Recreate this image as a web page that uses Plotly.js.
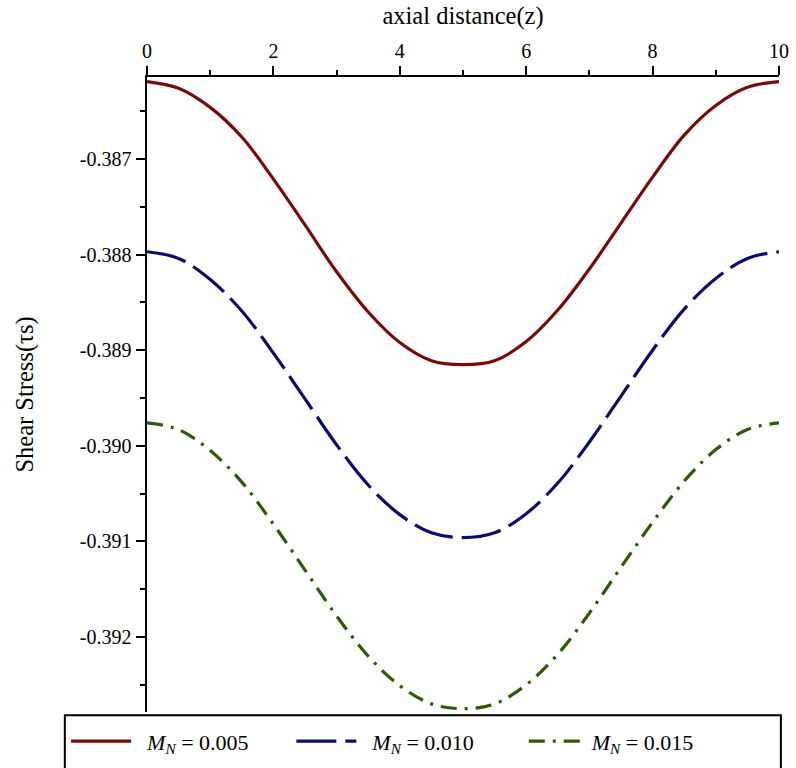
<!DOCTYPE html>
<html>
<head>
<meta charset="utf-8">
<script src="https://cdn.plot.ly/plotly-3.0.1.min.js"></script>
<style>
  html, body { margin: 0; padding: 0; background: #ffffff; }
  #chart { width: 796px; height: 768px; }
</style>
</head>
<body>
<div id="chart"></div>
<script>
// axial distance z
const z = [0, 0.5, 1, 1.5, 2, 2.5, 3, 3.5, 4, 4.5, 5, 5.5, 6, 6.5, 7, 7.5, 8, 8.5, 9, 9.5, 10];

// Shear stress values
const tauMN005 = [-0.38619, -0.38626, -0.38646, -0.38677, -0.38721, -0.38769, -0.38818, -0.38860, -0.38892, -0.38911, -0.38915,
                  -0.38911, -0.38891, -0.38858, -0.38815, -0.38767, -0.38719, -0.38675, -0.38644, -0.38625, -0.38619];
const tauMN010 = [-0.38797, -0.38804, -0.38826, -0.38859, -0.38903, -0.38951, -0.38999, -0.39041, -0.39072, -0.39091, -0.39096,
                  -0.39091, -0.39071, -0.39039, -0.38996, -0.38948, -0.38900, -0.38857, -0.38825, -0.38804, -0.38797];
const tauMN015 = [-0.38976, -0.38983, -0.39005, -0.39038, -0.39082, -0.39130, -0.39178, -0.39220, -0.39251, -0.39270, -0.39275,
                  -0.39270, -0.39250, -0.39218, -0.39175, -0.39127, -0.39080, -0.39037, -0.39004, -0.38983, -0.38976];

const seriesNames = ['\u00a0\u00a0<i>M</i><sub><i>N</i></sub> = 0.005', '\u00a0\u00a0<i>M</i><sub><i>N</i></sub> = 0.010', '<i>M</i><sub><i>N</i></sub> = 0.015'];

const xTickVals = [0, 2, 4, 6, 8, 10];
const xTickText = ['0', '2', '4', '6', '8', '10'];
const yTickVals = [-0.387, -0.388, -0.389, -0.390, -0.391, -0.392];
const yTickText = ['-0.387', '-0.388', '-0.389', '-0.390', '-0.391', '-0.392'];

const serif = 'Liberation Serif, Times New Roman, serif';

const traces = [
  { x: z, y: tauMN005, name: seriesNames[0], mode: 'lines', legend: 'legend',
    line: { color: '#7a0a0a', width: 3.2, shape: 'spline', smoothing: 1, dash: 'solid' } },
  { x: z, y: tauMN010, name: seriesNames[1], mode: 'lines', legend: 'legend2',
    line: { color: '#0c0c70', width: 3.2, shape: 'spline', smoothing: 1, dash: '40px,9px' } },
  { x: z, y: tauMN015, name: seriesNames[2], mode: 'lines', legend: 'legend3',
    line: { color: '#2f5a05', width: 3.2, shape: 'spline', smoothing: 1, dash: '16px,8px,3px,8px' } }
];

function legendAt(xpos, width) {
  return {
    orientation: 'h', xref: 'container', x: xpos, xanchor: 'left',
    yref: 'container', y: 0.062, yanchor: 'top',
    font: { family: serif, size: 22, color: '#000' },
    bgcolor: 'rgba(0,0,0,0)', borderwidth: 0,
    itemwidth: width
  };
}

const layout = {
  width: 796, height: 768,
  margin: { l: 147, r: 17, t: 77, b: 56, autoexpand: false },
  paper_bgcolor: '#ffffff', plot_bgcolor: '#ffffff',
  font: { family: serif, color: '#000000', size: 20 },
  showlegend: true,
  legend: legendAt(0.083, 60),
  legend2: legendAt(0.366, 60),
  legend3: legendAt(0.658, 58),
  shapes: [
    { type: 'rect', xref: 'paper', yref: 'paper', x0: -0.13, x1: 1.003, y0: -0.005, y1: -0.12,
      line: { color: '#000', width: 2 }, fillcolor: 'rgba(0,0,0,0)' }
  ],
  xaxis: {
    side: 'top', range: [0, 10], showgrid: false, zeroline: false,
    showline: true, linecolor: '#000', linewidth: 2.5,
    tickmode: 'array', tickvals: xTickVals, ticktext: xTickText,
    ticks: 'outside', ticklen: 9, tickwidth: 2, tickcolor: '#000',
    minor: { dtick: 1, ticks: 'outside', ticklen: 5, tickwidth: 2, tickcolor: '#000', showgrid: false },
    tickfont: { family: serif, size: 20 },
    title: { text: 'axial distance(z)', font: { family: serif, size: 24.5 }, standoff: 8 }
  },
  yaxis: {
    range: [-0.392785, -0.386142], showgrid: false, zeroline: false,
    showline: true, linecolor: '#000', linewidth: 2.5,
    tickmode: 'array', tickvals: yTickVals, ticktext: yTickText,
    ticks: 'outside', ticklen: 9, tickwidth: 2, tickcolor: '#000',
    minor: { dtick: 0.0005, tick0: -0.387, ticks: 'outside', ticklen: 5, tickwidth: 2, tickcolor: '#000', showgrid: false },
    tickfont: { family: serif, size: 20 },
    title: { text: 'Shear Stress(τs)', font: { family: serif, size: 24.5 }, standoff: 40 }
  }
};

Plotly.newPlot('chart', traces, layout, { displayModeBar: false, staticPlot: true });
</script>
</body>
</html>
